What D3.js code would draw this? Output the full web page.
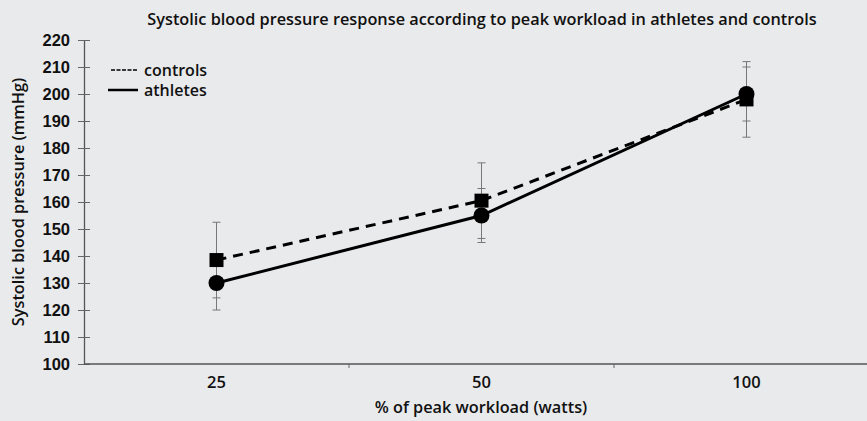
<!DOCTYPE html>
<html>
<head>
<meta charset="utf-8">
<script src="https://cdn.jsdelivr.net/npm/d3@7"></script>
<style>
  body { margin: 0; background: #e9eaec; }
  svg { display: block; font-family: "Open Sans", sans-serif; }
</style>
</head>
<body>
<div id="chart"></div>
<script>
// data
var workloads = ["25", "50", "100"];
var controlsMean = [138.5, 160.5, 198];
var controlsSd = [14, 14, 14];
var athletesMean = [130, 155, 200];
var athletesSd = [10, 10, 10];
var yTicks = [100, 110, 120, 130, 140, 150, 160, 170, 180, 190, 200, 210, 220];

var width = 867, height = 421;
var margin = { top: 40, right: -12, bottom: 57, left: 84 };

var svg = d3.select("#chart").append("svg")
  .attr("width", width)
  .attr("height", height);

svg.append("rect").attr("width", width).attr("height", height).attr("fill", "#e9eaec");

var x = d3.scaleBand()
  .domain(workloads)
  .range([margin.left, width - margin.right]);

var y = d3.scaleLinear()
  .domain([100, 220])
  .range([height - margin.bottom, margin.top]);

// title
svg.append("text")
  .attr("x", 482)
  .attr("y", 25)
  .attr("text-anchor", "middle")
  .style("font-size", "16.3px")
  .style("font-weight", "600")
  .style("fill", "#111")
  .text("Systolic blood pressure response according to peak workload in athletes and controls");

// y axis
var yAxis = svg.append("g")
  .attr("transform", "translate(" + margin.left + ",0)")
  .call(d3.axisLeft(y).tickValues(yTicks).tickSize(0).tickPadding(14));
yAxis.select(".domain").attr("stroke", "#555").attr("stroke-width", 1.3);
yAxis.selectAll(".tick line").remove();
yAxis.selectAll(".tick").append("line")
  .attr("x1", -6).attr("x2", 6)
  .attr("stroke", "#666").attr("stroke-width", 1);
yAxis.selectAll("text")
  .style("font-size", "16.5px")
  .style("font-weight", "600")
  .style("fill", "#111")
  .attr("dy", "0.35em");

// x axis
var xAxis = svg.append("g")
  .attr("transform", "translate(0," + y(100) + ")");
xAxis.append("line")
  .attr("x1", margin.left).attr("x2", width)
  .attr("stroke", "#555").attr("stroke-width", 1.3);
xAxis.selectAll(".sep")
  .data(workloads.slice(1))
  .enter().append("line")
  .attr("x1", function (d) { return x(d); })
  .attr("x2", function (d) { return x(d); })
  .attr("y1", 0).attr("y2", 4)
  .attr("stroke", "#666");
xAxis.selectAll(".lab")
  .data(workloads)
  .enter().append("text")
  .attr("x", function (d) { return x(d) + x.bandwidth() / 2; })
  .attr("y", 24)
  .attr("text-anchor", "middle")
  .style("font-size", "16.5px")
  .style("font-weight", "600")
  .style("fill", "#111")
  .text(function (d) { return d; });

svg.append("text")
  .attr("x", 481)
  .attr("y", 413)
  .attr("text-anchor", "middle")
  .style("font-size", "16.3px")
  .style("font-weight", "600")
  .style("fill", "#111")
  .text("% of peak workload (watts)");

svg.append("text")
  .attr("transform", "translate(24," + 202 + ") rotate(-90)")
  .attr("text-anchor", "middle")
  .style("font-size", "16.3px")
  .style("font-weight", "600")
  .style("fill", "#111")
  .text("Systolic blood pressure (mmHg)");

var cx = function (i) { return x(workloads[i]) + x.bandwidth() / 2; };

function errorBars(mean, sd) {
  var g = svg.append("g").attr("stroke", "#777").attr("stroke-width", 1);
  mean.forEach(function (m, i) {
    var lo = y(m - sd[i]), hi = y(m + sd[i]), xc = cx(i);
    g.append("line").attr("x1", xc).attr("x2", xc).attr("y1", lo).attr("y2", hi);
    g.append("line").attr("x1", xc - 4).attr("x2", xc + 4).attr("y1", lo).attr("y2", lo);
    g.append("line").attr("x1", xc - 4).attr("x2", xc + 4).attr("y1", hi).attr("y2", hi);
  });
}
errorBars(controlsMean, controlsSd);
errorBars(athletesMean, athletesSd);

var line = d3.line()
  .x(function (d, i) { return cx(i); })
  .y(function (d) { return y(d); });

svg.append("path")
  .datum(controlsMean)
  .attr("d", line)
  .attr("fill", "none")
  .attr("stroke", "#000")
  .attr("stroke-width", 3)
  .attr("stroke-dasharray", "10,7");

svg.append("path")
  .datum(athletesMean)
  .attr("d", line)
  .attr("fill", "none")
  .attr("stroke", "#000")
  .attr("stroke-width", 3);

svg.selectAll(".sq")
  .data(controlsMean)
  .enter().append("rect")
  .attr("x", function (d, i) { return cx(i) - 7; })
  .attr("y", function (d) { return y(d) - 7; })
  .attr("width", 14).attr("height", 14)
  .attr("fill", "#000");

svg.selectAll(".dot")
  .data(athletesMean)
  .enter().append("circle")
  .attr("cx", function (d, i) { return cx(i); })
  .attr("cy", function (d) { return y(d); })
  .attr("r", 8)
  .attr("fill", "#000");

// legend
var legend = svg.append("g");
legend.append("line")
  .attr("x1", 111).attr("x2", 137).attr("y1", 70).attr("y2", 70)
  .attr("stroke", "#000").attr("stroke-width", 1.3).attr("stroke-dasharray", "4,1.5");
legend.append("text")
  .attr("x", 144).attr("y", 76)
  .style("font-size", "16px").style("font-weight", "600").style("fill", "#111")
  .text("controls");
legend.append("line")
  .attr("x1", 108).attr("x2", 138).attr("y1", 90).attr("y2", 90)
  .attr("stroke", "#000").attr("stroke-width", 2.5);
legend.append("text")
  .attr("x", 144).attr("y", 96)
  .style("font-size", "16px").style("font-weight", "600").style("fill", "#111")
  .text("athletes");
</script>
</body>
</html>
